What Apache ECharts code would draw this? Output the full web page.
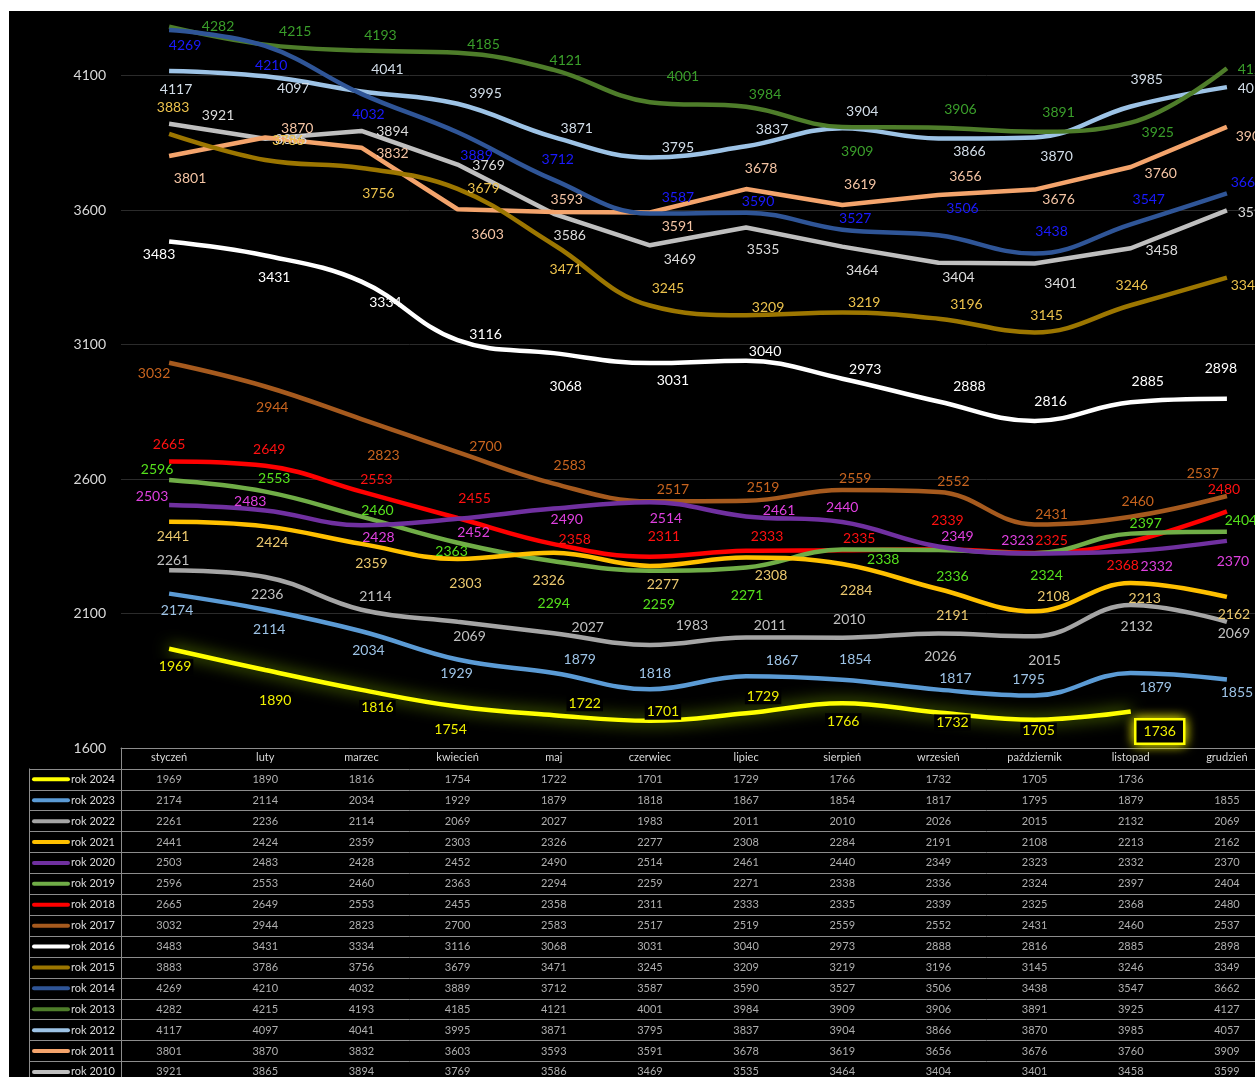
<!DOCTYPE html>
<html><head><meta charset="utf-8">
<script src="https://cdn.jsdelivr.net/npm/echarts@6/dist/echarts.min.js"></script>
<style>
html,body{margin:0;padding:0;background:#fff;width:1255px;height:1077px;overflow:hidden;position:relative;}
#c{position:absolute;left:9px;top:11px;width:1272px;height:1066px;background:#000;}
</style></head><body><div id="c"></div>
<script>
// ---------- DATA ----------
const months = ['styczeń','luty','marzec','kwiecień','maj','czerwiec','lipiec','sierpień','wrzesień','październik','listopad','grudzień'];
const yearNames = ['rok 2024','rok 2023','rok 2022','rok 2021','rok 2020','rok 2019','rok 2018','rok 2017','rok 2016','rok 2015','rok 2014','rok 2013','rok 2012','rok 2011','rok 2010'];
const rok2024 = [1969,1890,1816,1754,1722,1701,1729,1766,1732,1705,1736];
const rok2023 = [2174,2114,2034,1929,1879,1818,1867,1854,1817,1795,1879,1855];
const rok2022 = [2261,2236,2114,2069,2027,1983,2011,2010,2026,2015,2132,2069];
const rok2021 = [2441,2424,2359,2303,2326,2277,2308,2284,2191,2108,2213,2162];
const rok2020 = [2503,2483,2428,2452,2490,2514,2461,2440,2349,2323,2332,2370];
const rok2019 = [2596,2553,2460,2363,2294,2259,2271,2338,2336,2324,2397,2404];
const rok2018 = [2665,2649,2553,2455,2358,2311,2333,2335,2339,2325,2368,2480];
const rok2017 = [3032,2944,2823,2700,2583,2517,2519,2559,2552,2431,2460,2537];
const rok2016 = [3483,3431,3334,3116,3068,3031,3040,2973,2888,2816,2885,2898];
const rok2015 = [3883,3786,3756,3679,3471,3245,3209,3219,3196,3145,3246,3349];
const rok2014 = [4269,4210,4032,3889,3712,3587,3590,3527,3506,3438,3547,3662];
const rok2013 = [4282,4215,4193,4185,4121,4001,3984,3909,3906,3891,3925,4127];
const rok2012 = [4117,4097,4041,3995,3871,3795,3837,3904,3866,3870,3985,4057];
const rok2011 = [3801,3870,3832,3603,3593,3591,3678,3619,3656,3676,3760,3909];
const rok2010 = [3921,3865,3894,3769,3586,3469,3535,3464,3404,3401,3458,3599];
const seriesValues = [rok2024,rok2023,rok2022,rok2021,rok2020,rok2019,rok2018,rok2017,rok2016,rok2015,rok2014,rok2013,rok2012,rok2011,rok2010];
const yMin = 1600, yMax = 4340, yStep = 500;

// ---------- STYLE ----------
const lineColors = ['#ffff00','#5b9bd5','#a5a5a5','#ffc000','#7030a0','#70ad47','#ff0000','#a65a1e','#ffffff','#9c7600','#2f5597','#4e7d2a','#9dc3e6','#f4a46c','#bfbfbf'];
const labelColors = ['#f0f000','#9dc3e6','#c0c0c0','#ebc86e','#e040e0','#55e01c','#ff1010','#c8641e','#ffffff','#ecc24c','#1a1aff','#3a9e2a','#d2dde8','#f4c4a4','#dcdcdc'];
const smoothFlags = [true,true,true,true,true,true,true,true,true,true,true,true,true,false,false];
// label nudges [dx,dy] from each point (layout only)
const labelNudge = [
 [[6,18],[10,30],[16,18],[-7,23],[31,-12],[13,-9],[17,-17],[1,18],[14,10],[4,11],[29,20]],
 [[8,17],[4,20],[7,19],[-1,14],[26,-13],[5,-16],[36,-16],[13,-20],[17,-11],[-6,-16],[25,15],[10,13]],
 [[4,-10],[2,18],[14,-13],[12,15],[34,-6],[42,-19],[24,-12],[7,-18],[2,23],[10,24],[6,22],[7,12]],
 [[4,15],[7,16],[10,20],[8,25],[-5,28],[13,19],[25,18],[14,26],[14,26],[19,-15],[14,15],[7,18]],
 [[-17,-9],[-15,-9],[17,12],[16,14],[13,11],[16,16],[33,-6],[0,-15],[19,-10],[-17,-13],[26,15],[6,21]],
 [[-12,-11],[9,-13],[16,-6],[-6,9],[0,42],[9,34],[1,28],[41,10],[14,26],[12,22],[15,-10],[14,-11]],
 [[0,-17],[4,-16],[15,-12],[17,-20],[21,-5],[14,-20],[21,-14],[17,-12],[9,-29],[17,-13],[-8,24],[-3,-22]],
 [[-15,11],[7,21],[22,36],[28,-6],[16,-18],[23,-12],[17,-13],[13,-12],[15,-10],[17,-10],[7,-15],[-24,-22]],
 [[-10,13],[9,22],[24,21],[28,-6],[12,33],[23,17],[19,-9],[23,-9],[31,-15],[16,-19],[17,-21],[-6,-30]],
 [[4,-26],[23,-20],[17,25],[26,0],[12,25],[18,-17],[22,-8],[22,-10],[28,-14],[12,-17],[1,-20],[20,8]],
 [[16,15],[6,20],[7,21],[19,23],[4,-20],[28,-16],[12,-11],[13,-11],[24,-27],[17,-22],[18,-25],[20,-11]],
 [[49,0],[30,-13],[19,-15],[26,-8],[12,-9],[33,-26],[19,-12],[15,25],[22,-18],[24,-19],[27,10],[27,1]],
 [[7,19],[28,12],[26,-22],[28,-10],[23,-9],[28,-10],[26,-17],[20,-17],[31,13],[22,19],[16,-27],[27,1]],
 [[21,23],[32,-9],[31,6],[30,25],[13,-12],[28,14],[15,-21],[18,-20],[27,-18],[24,10],[30,6],[25,10]],
 [[49,-8],[26,1],[31,1],[31,1],[16,22],[30,14],[17,22],[20,24],[20,15],[26,20],[31,2],[27,2]]
];
const FONT = 'Lato';
const gridLineColor = '#8c8c8c';
const textColor = '#d9d9d9';
const plotLeft = 112, plotWidth = 1154;

const chart = echarts.init(document.getElementById('c'), null, {renderer:'canvas'});

const series = [];
// draw order: oldest first, newest on top
for (let k = seriesValues.length - 1; k >= 0; k--) {
  const vals = seriesValues[k];
  const isNewest = (k === 0);
  const data = vals.map((v, i) => {
    const item = { value: v, label: { offset: labelNudge[k][i] } };
    if (isNewest && i === vals.length - 1) {
      item.label = {
        offset: labelNudge[k][i], backgroundColor: '#000', borderColor: '#ffff00', borderWidth: 2.5,
        padding: [4, 7], shadowColor: '#ffff00', shadowBlur: 12, color: '#f0f000'
      };
    }
    return item;
  });
  series.push({
    name: yearNames[k], type: 'line', xAxisIndex: 0, yAxisIndex: 0,
    data: data, smooth: smoothFlags[k] ? 0.4 : false,
    symbol: 'circle', symbolSize: 1, showSymbol: true, showAllSymbol: true,
    itemStyle: { color: 'rgba(0,0,0,0)' },
    lineStyle: isNewest
      ? { color: lineColors[k], width: 4.5, shadowColor: 'rgba(160,220,0,0.9)', shadowBlur: 16 }
      : { color: lineColors[k], width: 4.5 },
    label: {
      show: true, position: 'inside', color: labelColors[k], fontFamily: FONT, fontSize: 14,
      backgroundColor: isNewest ? '#000' : 'transparent', padding: isNewest ? [1, 2] : 0
    },
    emphasis: { disabled: true }, silent: true, z: isNewest ? 5 : 2
  });
}

// table values
const tableData = [];
seriesValues.forEach((vals, k) => {
  vals.forEach((v, i) => { tableData.push([months[i], yearNames[k], v]); });
});
series.push({
  type: 'scatter', xAxisIndex: 1, yAxisIndex: 1, data: tableData, symbolSize: 1,
  itemStyle: { color: 'rgba(0,0,0,0)' }, silent: true,
  label: { show: true, position: 'inside', formatter: p => p.value[2], color: textColor, fontFamily: FONT, fontSize: 11 }
});

const rich = { t: { color: textColor, fontFamily: FONT, fontSize: 11, padding: [0, 0, 0, 1] } };
lineColors.forEach((c, k) => { rich['sw' + k] = { width: 38, height: 4, backgroundColor: c, borderRadius: 2 }; });

const option = {
  backgroundColor: '#000',
  animation: false,
  grid: [
    { left: plotLeft, width: plotWidth, top: 0, height: 737, outerBoundsMode: 'none' },
    { left: plotLeft, width: plotWidth, top: 737, height: 334.4, outerBoundsMode: 'none' },
    { left: 20, width: 92, top: 757.9, height: 313.5, outerBoundsMode: 'none' }
  ],
  xAxis: [
    { type: 'category', gridIndex: 0, data: months, boundaryGap: true,
      axisLine: { show: true, lineStyle: { color: gridLineColor, width: 1 } },
      axisTick: { show: false }, axisLabel: { show: false }, splitLine: { show: false } },
    { type: 'category', gridIndex: 1, data: months, position: 'top', boundaryGap: true,
      axisLine: { show: false }, axisTick: { show: false }, splitLine: { show: false },
      axisLabel: { show: true, inside: true, margin: 4, color: textColor, fontFamily: FONT, fontSize: 11, interval: 0 } },
    { type: 'value', gridIndex: 2, show: false }
  ],
  yAxis: [
    { type: 'value', gridIndex: 0, min: yMin, max: yMax, interval: yStep,
      axisLine: { show: false }, axisTick: { show: false },
      axisLabel: { color: textColor, fontFamily: FONT, fontSize: 14, margin: 15, showMaxLabel: false,
        formatter: v => String(v) },
      splitLine: { show: true, showMaxLine: false, lineStyle: { color: '#2b2b2b', width: 1 } } },
    { type: 'category', gridIndex: 1, inverse: true, data: ['hdr'].concat(yearNames),
      axisLine: { show: true, lineStyle: { color: gridLineColor, width: 1 } },
      axisTick: { show: false }, axisLabel: { show: false },
      splitLine: { show: true, lineStyle: { color: gridLineColor, width: 1 } } },
    { type: 'category', gridIndex: 2, inverse: true, data: yearNames,
      axisLine: { show: true, lineStyle: { color: gridLineColor, width: 1 } },
      axisTick: { show: false },
      axisLabel: { show: true, inside: true, margin: 3, interval: 0,
        formatter: (val, idx) => '{sw' + idx + '|}{t|' + val + '}', rich: rich },
      splitLine: { show: true, lineStyle: { color: gridLineColor, width: 1 } } }
  ],
  series: series
};
chart.setOption(option);
</script></body></html>
